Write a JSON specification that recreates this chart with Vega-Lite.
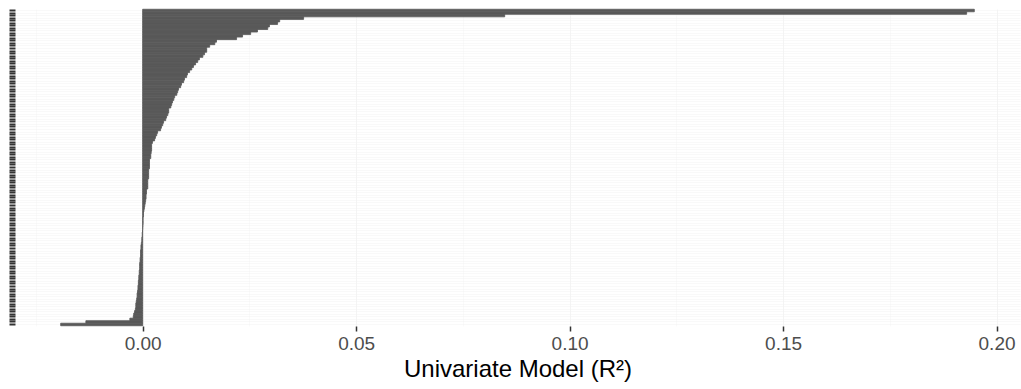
{
  "$schema": "https://vega.github.io/schema/vega-lite/v6.json",
  "autosize": {"type": "none"},
  "padding": {"left": 15, "top": 9, "right": 1, "bottom": 63},
  "width": 1005,
  "height": 317,
  "background": "white",
  "config": {"view": {"stroke": null}},
  "data": {"values": [
    {"id": "v001", "r2": 0.1948}, {"id": "v002", "r2": 0.1930}, {"id": "v003", "r2": 0.0848}, {"id": "v004", "r2": 0.0377},
    {"id": "v005", "r2": 0.0321}, {"id": "v006", "r2": 0.0316}, {"id": "v007", "r2": 0.0297}, {"id": "v008", "r2": 0.0293},
    {"id": "v009", "r2": 0.0269}, {"id": "v010", "r2": 0.0253}, {"id": "v011", "r2": 0.0234}, {"id": "v012", "r2": 0.0220},
    {"id": "v013", "r2": 0.0173}, {"id": "v014", "r2": 0.0169}, {"id": "v015", "r2": 0.0157}, {"id": "v016", "r2": 0.0150},
    {"id": "v017", "r2": 0.0150}, {"id": "v018", "r2": 0.0145}, {"id": "v019", "r2": 0.0141}, {"id": "v020", "r2": 0.0133},
    {"id": "v021", "r2": 0.0129}, {"id": "v022", "r2": 0.0124}, {"id": "v023", "r2": 0.0119}, {"id": "v024", "r2": 0.0115},
    {"id": "v025", "r2": 0.0110}, {"id": "v026", "r2": 0.0105}, {"id": "v027", "r2": 0.0103}, {"id": "v028", "r2": 0.0098},
    {"id": "v029", "r2": 0.0096}, {"id": "v030", "r2": 0.0091}, {"id": "v031", "r2": 0.0089}, {"id": "v032", "r2": 0.0084},
    {"id": "v033", "r2": 0.0082}, {"id": "v034", "r2": 0.0080}, {"id": "v035", "r2": 0.0075}, {"id": "v036", "r2": 0.0073},
    {"id": "v037", "r2": 0.0070}, {"id": "v038", "r2": 0.0068}, {"id": "v039", "r2": 0.0066}, {"id": "v040", "r2": 0.0061},
    {"id": "v041", "r2": 0.0061}, {"id": "v042", "r2": 0.0059}, {"id": "v043", "r2": 0.0056}, {"id": "v044", "r2": 0.0054},
    {"id": "v045", "r2": 0.0049}, {"id": "v046", "r2": 0.0047}, {"id": "v047", "r2": 0.0044}, {"id": "v048", "r2": 0.0042},
    {"id": "v049", "r2": 0.0035}, {"id": "v050", "r2": 0.0033}, {"id": "v051", "r2": 0.0030}, {"id": "v052", "r2": 0.0028},
    {"id": "v053", "r2": 0.0023}, {"id": "v054", "r2": 0.0021}, {"id": "v055", "r2": 0.0021}, {"id": "v056", "r2": 0.0021},
    {"id": "v057", "r2": 0.0020}, {"id": "v058", "r2": 0.0019}, {"id": "v059", "r2": 0.0019}, {"id": "v060", "r2": 0.0016},
    {"id": "v061", "r2": 0.0016}, {"id": "v062", "r2": 0.0016}, {"id": "v063", "r2": 0.0016}, {"id": "v064", "r2": 0.0014},
    {"id": "v065", "r2": 0.0014}, {"id": "v066", "r2": 0.0014}, {"id": "v067", "r2": 0.0014}, {"id": "v068", "r2": 0.0012},
    {"id": "v069", "r2": 0.0012}, {"id": "v070", "r2": 0.0012}, {"id": "v071", "r2": 0.0012}, {"id": "v072", "r2": 0.0009},
    {"id": "v073", "r2": 0.0009}, {"id": "v074", "r2": 0.0008}, {"id": "v075", "r2": 0.0008}, {"id": "v076", "r2": 0.0007},
    {"id": "v077", "r2": 0.0006}, {"id": "v078", "r2": 0.0005}, {"id": "v079", "r2": 0.0004}, {"id": "v080", "r2": 0.0003},
    {"id": "v081", "r2": 0.0002}, {"id": "v082", "r2": 0.0002}, {"id": "v083", "r2": 0.0001}, {"id": "v084", "r2": 0.0001},
    {"id": "v085", "r2": 0.0001}, {"id": "v086", "r2": 0.00005}, {"id": "v087", "r2": 0.00001}, {"id": "v088", "r2": -0.00003},
    {"id": "v089", "r2": -0.0001}, {"id": "v090", "r2": -0.0001}, {"id": "v091", "r2": -0.0002}, {"id": "v092", "r2": -0.0002},
    {"id": "v093", "r2": -0.0003}, {"id": "v094", "r2": -0.0004}, {"id": "v095", "r2": -0.0004}, {"id": "v096", "r2": -0.0005},
    {"id": "v097", "r2": -0.0005}, {"id": "v098", "r2": -0.0005}, {"id": "v099", "r2": -0.0006}, {"id": "v100", "r2": -0.0006},
    {"id": "v101", "r2": -0.0007}, {"id": "v102", "r2": -0.0007}, {"id": "v103", "r2": -0.0007}, {"id": "v104", "r2": -0.0008},
    {"id": "v105", "r2": -0.0008}, {"id": "v106", "r2": -0.0009}, {"id": "v107", "r2": -0.0009}, {"id": "v108", "r2": -0.0010},
    {"id": "v109", "r2": -0.0010}, {"id": "v110", "r2": -0.0011}, {"id": "v111", "r2": -0.0011}, {"id": "v112", "r2": -0.0012},
    {"id": "v113", "r2": -0.0013}, {"id": "v114", "r2": -0.0013}, {"id": "v115", "r2": -0.0014}, {"id": "v116", "r2": -0.0015},
    {"id": "v117", "r2": -0.0016}, {"id": "v118", "r2": -0.0016}, {"id": "v119", "r2": -0.0017}, {"id": "v120", "r2": -0.0019},
    {"id": "v121", "r2": -0.0021}, {"id": "v122", "r2": -0.0022}, {"id": "v123", "r2": -0.0030}, {"id": "v124", "r2": -0.0133},
    {"id": "v125", "r2": -0.0192}
  ]},
  "mark": {"type": "bar", "color": "#595959", "stroke": "#595959", "strokeWidth": 0.8},
  "encoding": {
    "y": {
      "field": "id", "type": "nominal", "sort": null,
      "scale": {"paddingInner": 0, "paddingOuter": 0.1},
      "axis": {
        "title": null, "labels": false, "domain": false,
        "ticks": true, "tickSize": 6, "tickColor": "#333333", "tickWidth": 2,
        "grid": true, "gridColor": "#F2F2F2", "gridWidth": 0.5
      }
    },
    "x": {
      "field": "r2", "type": "quantitative",
      "scale": {"domain": [-0.0299, 0.2055], "nice": false, "zero": false},
      "axis": {
        "values": [-0.025, 0, 0.025, 0.05, 0.075, 0.1, 0.125, 0.15, 0.175, 0.2],
        "labelExpr": "indexof([-0.025, 0.025, 0.075, 0.125, 0.175], datum.value) >= 0 ? '' : format(datum.value, '.2f')",
        "labelFont": "Liberation Sans", "labelFontSize": 19, "labelColor": "#4D4D4D", "labelPadding": 3,
        "tickColor": "#333333", "tickSize": 5, "tickWidth": 1.5,
        "tickOpacity": {"condition": {"test": "indexof([-0.025, 0.025, 0.075, 0.125, 0.175], datum.value) >= 0", "value": 0}, "value": 1},
        "domain": false,
        "grid": true, "gridColor": "#F4F4F4",
        "gridWidth": {"condition": {"test": "indexof([-0.025, 0.025, 0.075, 0.125, 0.175], datum.value) >= 0", "value": 0.5}, "value": 1},
        "title": "Univariate Model (R²)",
        "titleFont": "Liberation Sans", "titleFontSize": 24, "titleFontWeight": "normal", "titleColor": "#000000", "titlePadding": 4
      }
    },
    "x2": {"datum": 0}
  }
}
